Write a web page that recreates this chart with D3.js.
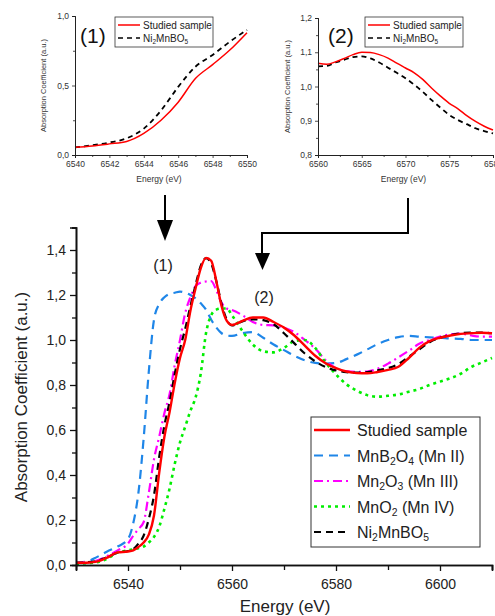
<body style="margin:0;background:#fff">
<script src="https://cdnjs.cloudflare.com/ajax/libs/d3/7.8.5/d3.min.js"></script>
<script>
// main XANES spectra (energy in eV)
var energy = [6530,6532,6534,6536,6538,6540,6541,6542,6543,6544,6545,6546,6547,6548,6549,6550,6551,6552,6553,6554,6555,6556,6557,6558,6559,6560,
  6562,6564,6566,6568,6570,6572,6574,6576,6578,6580,6582,6584,6586,6588,6590,6592,6594,6596,6598,6600,6602,6604,6606,6608,6610];
var studied = [0.01,0.01,0.015,0.033,0.056,0.06,0.065,0.08,0.10,0.135,0.22,0.41,0.57,0.68,0.81,0.92,1.0,1.13,1.23,1.32,1.365,1.352,1.26,1.15,1.085,1.067,
  1.085,1.10,1.10,1.08,1.055,1.02,0.975,0.93,0.897,0.875,0.86,0.853,0.852,0.858,0.867,0.881,0.92,0.965,0.995,1.01,1.02,1.027,1.03,1.032,1.03];
var mnb2o4 = [0.01,0.015,0.035,0.06,0.082,0.115,0.185,0.32,0.56,0.86,1.09,1.16,1.19,1.205,1.21,1.215,1.21,1.2,1.185,1.163,1.135,1.09,1.055,1.03,1.02,1.018,
  1.03,1.035,1.01,0.98,0.955,0.93,0.91,0.898,0.895,0.898,0.915,0.935,0.958,0.982,1.0,1.013,1.018,1.015,1.012,1.01,1.007,1.005,1.0,1.0,1.0];
var mn2o3 = [0.01,0.012,0.02,0.04,0.065,0.095,0.13,0.16,0.19,0.32,0.47,0.57,0.675,0.76,0.89,1.0,1.12,1.19,1.24,1.255,1.26,1.262,1.22,1.165,1.14,1.133,
  1.11,1.08,1.067,1.065,1.055,1.035,1.0,0.962,0.91,0.875,0.862,0.858,0.86,0.872,0.895,0.923,0.952,0.983,1.0,1.015,1.025,1.028,1.02,1.015,1.015];
var mno2 = [0.005,0.008,0.012,0.028,0.055,0.065,0.07,0.075,0.082,0.1,0.125,0.17,0.25,0.34,0.45,0.545,0.615,0.685,0.745,0.852,1.03,1.11,1.135,1.14,1.14,1.11,
  1.04,0.98,0.95,0.945,0.965,0.995,1.0,0.965,0.90,0.847,0.803,0.775,0.755,0.748,0.752,0.758,0.77,0.782,0.80,0.815,0.83,0.85,0.88,0.90,0.92];
var ni2mnbo5 = [0.01,0.012,0.018,0.035,0.055,0.062,0.07,0.095,0.13,0.205,0.31,0.48,0.62,0.725,0.85,0.96,1.05,1.15,1.245,1.33,1.364,1.34,1.26,1.16,1.09,1.065,
  1.083,1.092,1.088,1.07,1.03,0.985,0.94,0.905,0.88,0.865,0.857,0.855,0.857,0.865,0.875,0.893,0.925,0.958,0.99,1.01,1.022,1.03,1.033,1.033,1.03];

// insets
var inset1Energy = [6540,6541,6542,6543,6544,6545,6546,6547,6548,6549,6550];
var inset1Studied = [0.055,0.065,0.08,0.097,0.155,0.25,0.38,0.55,0.65,0.755,0.88];
var inset1Ni = [0.055,0.07,0.09,0.12,0.19,0.32,0.49,0.635,0.72,0.815,0.90];
var inset2Energy = [6560,6561,6562,6563,6564,6565,6566,6567,6568,6569,6570,6571,6572,6573,6574,6575,6576,6577,6578,6579,6580];
var inset2Studied = [1.068,1.065,1.072,1.082,1.093,1.10,1.099,1.093,1.083,1.068,1.054,1.04,1.02,0.995,0.972,0.951,0.935,0.915,0.898,0.884,0.873];
var inset2Ni = [1.059,1.06,1.07,1.078,1.086,1.088,1.082,1.07,1.055,1.04,1.024,1.005,0.984,0.96,0.938,0.917,0.902,0.89,0.878,0.87,0.863];

var xTicks = [6540,6560,6580,6600];
var yTicks = [0,0.2,0.4,0.6,0.8,1.0,1.2,1.4];

var font = "'Liberation Sans', Arial, sans-serif";
var comma = function(f){ return function(d){ return d3.format(f)(d).replace(".", ","); }; };

var svg = d3.select("body").append("svg").attr("width", 495).attr("height", 616)
  .style("font-family", font);

var series = [
  {name: "MnB2O4", vals: mnb2o4, color: "#1f86e8", w: 2.2, dash: "9,6"},
  {name: "Mn2O3", vals: mn2o3, color: "#ff00ff", w: 2.2, dash: "9,4,2,4"},
  {name: "MnO2", vals: mno2, color: "#00ee00", w: 2.6, dash: "3,4"},
  {name: "Ni2MnBO5", vals: ni2mnbo5, color: "#000", w: 2.2, dash: "7,5"},
  {name: "Studied sample", vals: studied, color: "#ff0000", w: 2.4, dash: null}
];

// ---------- main plot ----------
var x = d3.scaleLinear().domain([6530, 6610]).range([76, 492]);
var y = d3.scaleLinear().domain([0, 1.5]).range([565, 227.5]);

svg.append("clipPath").attr("id", "mclip").append("rect")
  .attr("x", 76).attr("y", 220).attr("width", 419).attr("height", 346);

var line = d3.line().curve(d3.curveMonotoneX)
  .x(function(d){ return x(d[0]); }).y(function(d){ return y(d[1]); });

var g = svg.append("g").attr("clip-path", "url(#mclip)");
series.forEach(function(s){
  g.append("path").datum(energy.map(function(e, i){ return [e, s.vals[i]]; }))
    .attr("d", line).attr("fill", "none").attr("stroke", s.color)
    .attr("stroke-width", s.w).attr("stroke-dasharray", s.dash);
});

var xAx = svg.append("g").attr("transform", "translate(0,565)")
  .call(d3.axisBottom(x).tickValues(xTicks).tickSize(6).tickFormat(d3.format("d")));
svg.append("g").attr("transform", "translate(0,565)")
  .call(d3.axisBottom(x).tickValues([6530,6550,6570,6590,6610]).tickSize(5).tickFormat(""));
var yAx = svg.append("g").attr("transform", "translate(76,0)")
  .call(d3.axisLeft(y).tickValues(yTicks).tickSize(6).tickFormat(comma(".1f")));
svg.append("g").attr("transform", "translate(76,0)")
  .call(d3.axisLeft(y).tickValues([0.1,0.3,0.5,0.7,0.9,1.1,1.3,1.5]).tickSize(4).tickFormat(""));
svg.selectAll(".domain").attr("stroke-width", 1.6).attr("stroke", "#111");
svg.selectAll(".tick line").attr("stroke-width", 1.3).attr("stroke", "#111");
xAx.selectAll("text").attr("font-size", 14).attr("fill", "#222").attr("dy", "1.05em").attr("font-family", font);
yAx.selectAll("text").attr("font-size", 14).attr("fill", "#222").attr("dx", "-1px").attr("font-family", font);

svg.append("text").attr("x", 285).attr("y", 612).attr("text-anchor", "middle")
  .attr("font-size", 17).attr("fill", "#222").text("Energy (eV)");
svg.append("text").attr("transform", "translate(27,397) rotate(-90)").attr("text-anchor", "middle")
  .attr("font-size", 17).attr("fill", "#222").text("Absorption Coefficient (a.u.)");

// legend text with subscripts
function label(sel, parts, size){
  parts.forEach(function(p){
    var t = sel.append("tspan").text(p[0]);
    if (p[1]) t.attr("font-size", size * 0.65).attr("baseline-shift", "-25%");
  });
}
var legendLabels = {
  "Studied sample": [["Studied sample"]],
  "MnB2O4": [["MnB"],["2",1],["O"],["4",1],[" (Mn II)"]],
  "Mn2O3": [["Mn"],["2",1],["O"],["3",1],[" (Mn III)"]],
  "MnO2": [["MnO"],["2",1],[" (Mn IV)"]],
  "Ni2MnBO5": [["Ni"],["2",1],["MnBO"],["5",1]]
};
var legendOrder = ["Studied sample","MnB2O4","Mn2O3","MnO2","Ni2MnBO5"];
svg.append("rect").attr("x", 311).attr("y", 417).attr("width", 169).attr("height", 130)
  .attr("fill", "#fff").attr("stroke", "#333").attr("stroke-width", 1);
legendOrder.forEach(function(n, i){
  var s = series.filter(function(d){ return d.name === n; })[0];
  var ly = 430 + i * 25.5;
  svg.append("line").attr("x1", 314).attr("x2", 350).attr("y1", ly).attr("y2", ly)
    .attr("stroke", s.color).attr("stroke-width", s.w).attr("stroke-dasharray", s.dash);
  var t = svg.append("text").attr("x", 357).attr("y", ly + 6).attr("font-size", 16).attr("fill", "#222");
  label(t, legendLabels[n], 16);
});

// arrows and markers
var ar = svg.append("g").attr("stroke", "#000").attr("stroke-width", 2).attr("fill", "none");
ar.append("line").attr("x1", 165).attr("x2", 165).attr("y1", 195).attr("y2", 222);
ar.append("polyline").attr("points", "408,198 408,233 262,233 262,256");
svg.append("path").attr("d", "M157,220L173,220L165,241Z").attr("fill", "#000");
svg.append("path").attr("d", "M255,253L270,253L262.5,270Z").attr("fill", "#000");
svg.append("text").attr("x", 163).attr("y", 271).attr("text-anchor", "middle").attr("font-size", 16).attr("fill", "#222").text("(1)");
svg.append("text").attr("x", 264).attr("y", 303).attr("text-anchor", "middle").attr("font-size", 16).attr("fill", "#222").text("(2)");

// ---------- insets ----------
function inset(o){
  var ix = d3.scaleLinear().domain(o.xd).range(o.xr);
  var iy = d3.scaleLinear().domain(o.yd).range(o.yr);
  var ig = svg.append("g");
  var il = d3.line().curve(d3.curveMonotoneX)
    .x(function(d){ return ix(d[0]); }).y(function(d){ return iy(d[1]); });
  ig.append("path").datum(o.e.map(function(e, i){ return [e, o.ni[i]]; }))
    .attr("d", il).attr("fill", "none").attr("stroke", "#000").attr("stroke-width", 1.8).attr("stroke-dasharray", "5,4");
  ig.append("path").datum(o.e.map(function(e, i){ return [e, o.st[i]]; }))
    .attr("d", il).attr("fill", "none").attr("stroke", "#ff0000").attr("stroke-width", 1.5);
  ig.append("g").attr("transform", "translate(0," + o.yr[0] + ")")
    .call(d3.axisBottom(ix).tickValues(o.xt).tickSize(3).tickPadding(3).tickFormat(d3.format("d")));
  ig.append("g").attr("transform", "translate(0," + o.yr[0] + ")")
    .call(d3.axisBottom(ix).tickValues(o.xm).tickSize(2).tickFormat(""));
  ig.append("g").attr("transform", "translate(" + o.xr[0] + ",0)")
    .call(d3.axisLeft(iy).tickValues(o.yt).tickSize(3).tickPadding(3).tickFormat(comma(".1f")));
  ig.append("g").attr("transform", "translate(" + o.xr[0] + ",0)")
    .call(d3.axisLeft(iy).tickValues(o.ym).tickSize(2).tickFormat(""));
  ig.selectAll(".domain").attr("stroke", "#222").attr("stroke-width", 1);
  ig.selectAll(".tick line").attr("stroke", "#222").attr("stroke-width", 0.8);
  ig.selectAll("text").attr("font-size", 8.5).attr("fill", "#333").attr("font-family", font);
  ig.append("text").attr("x", (o.xr[0] + o.xr[1]) / 2 - 2).attr("y", 182).attr("text-anchor", "middle")
    .attr("font-size", 8.5).attr("fill", "#333").text("Energy (eV)");
  ig.append("text").attr("transform", "translate(" + o.yl + "," + ((o.yr[0] + o.yr[1]) / 2) + ") rotate(-90)")
    .attr("text-anchor", "middle").attr("font-size", 7.5).attr("fill", "#333").text("Absorption Coefficient (a.u.)");
  ig.append("text").attr("x", o.tag[0]).attr("y", o.tag[1]).attr("font-size", 21).attr("fill", "#111").text(o.tag[2]);
  ig.append("rect").attr("x", o.lg).attr("y", 17).attr("width", 98).attr("height", 30)
    .attr("fill", "#fff").attr("stroke", "#333").attr("stroke-width", 0.8);
  ig.append("line").attr("x1", o.lg + 3).attr("x2", o.lg + 25).attr("y1", 25).attr("y2", 25)
    .attr("stroke", "#ff0000").attr("stroke-width", 1.5);
  ig.append("line").attr("x1", o.lg + 3).attr("x2", o.lg + 25).attr("y1", 38).attr("y2", 38)
    .attr("stroke", "#000").attr("stroke-width", 1.6).attr("stroke-dasharray", "5,4");
  ig.append("text").attr("x", o.lg + 28).attr("y", 28.5).attr("font-size", 10).attr("fill", "#222").text("Studied sample");
  var t = ig.append("text").attr("x", o.lg + 28).attr("y", 41.5).attr("font-size", 10).attr("fill", "#222");
  label(t, legendLabels["Ni2MnBO5"], 10);
}

inset({xd: [6540, 6550], xr: [75, 247], yd: [0, 1], yr: [155, 16],
  e: inset1Energy, st: inset1Studied, ni: inset1Ni,
  xt: [6540,6542,6544,6546,6548,6550], xm: [6541,6543,6545,6547,6549],
  yt: [0, 0.5, 1.0], ym: [0.25, 0.75], yl: 46, tag: [80, 43, "(1)"], lg: 115});
inset({xd: [6560, 6580], xr: [318, 493], yd: [0.8, 1.2], yr: [155, 18],
  e: inset2Energy, st: inset2Studied, ni: inset2Ni,
  xt: [6560,6565,6570,6575,6580], xm: [6562.5,6567.5,6572.5,6577.5],
  yt: [0.8, 0.9, 1.0, 1.1, 1.2], ym: [0.85, 0.95, 1.05, 1.15], yl: 290, tag: [328, 43, "(2)"], lg: 365});
</script>
</body>
